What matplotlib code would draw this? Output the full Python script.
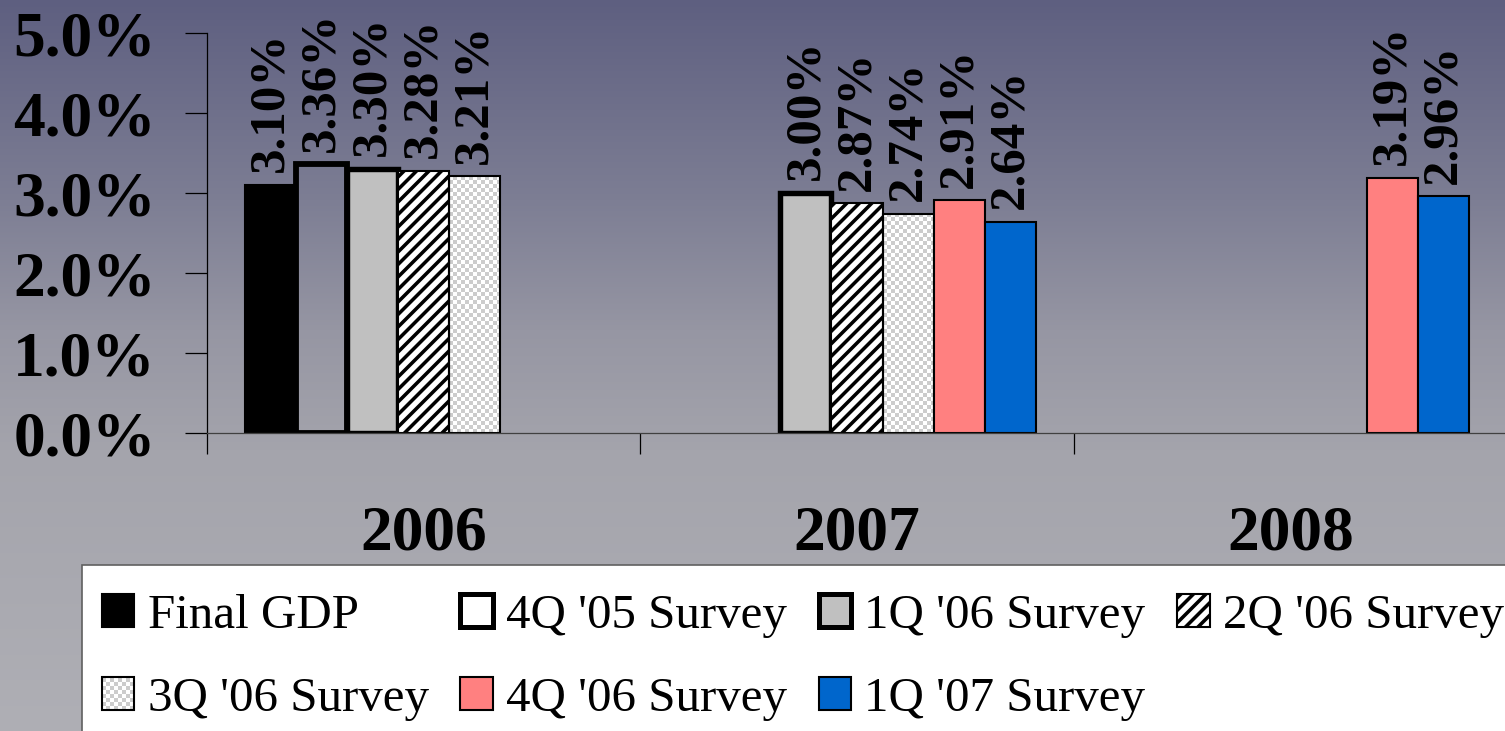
import matplotlib.pyplot as plt
import numpy as np
from matplotlib.patches import Patch, Rectangle
from matplotlib.legend_handler import HandlerBase

plt.rcParams['font.family'] = ['Liberation Serif', 'DejaVu Serif']
plt.rcParams['hatch.linewidth'] = 1.7

years = ['2006', '2007', '2008']
series = ["Final GDP", "4Q '05 Survey", "1Q '06 Survey", "2Q '06 Survey",
          "3Q '06 Survey", "4Q '06 Survey", "1Q '07 Survey"]
final_gdp = [3.10, np.nan, np.nan]
q4_05 = [3.36, np.nan, np.nan]
q1_06 = [3.30, 3.00, np.nan]
q2_06 = [3.28, 2.87, np.nan]
q3_06 = [3.21, 2.74, np.nan]
q4_06 = [np.nan, 2.91, 3.19]
q1_07 = [np.nan, 2.64, 2.96]
values = [final_gdp, q4_05, q1_06, q2_06, q3_06, q4_06, q1_07]
yticks = [0, 1, 2, 3, 4, 5]

styles = [
    dict(facecolor='black', edgecolor='black', linewidth=1.0),
    dict(facecolor='none', edgecolor='black', linewidth=2.8),
    dict(facecolor='#C0C0C0', edgecolor='black', linewidth=2.6),
    dict(facecolor='white', edgecolor='black', linewidth=1.0, hatch='////'),
    dict(facecolor='none', edgecolor='black', linewidth=1.0),
    dict(facecolor='#FF8080', edgecolor='black', linewidth=1.0),
    dict(facecolor='#0066CC', edgecolor='black', linewidth=1.0),
]
CHECK_GRAY = [0.80, 0.80, 0.80]


class CheckerHandler(HandlerBase):
    def create_artists(self, legend, orig_handle, xdescent, ydescent,
                       width, height, fontsize, trans):
        n = 8
        x0, y0 = -xdescent, -ydescent
        arts = [Rectangle((x0, y0), width, height, facecolor='white',
                          edgecolor='none', transform=trans)]
        for i in range(n):
            for j in range(n):
                if (i + j) % 2:
                    arts.append(Rectangle((x0 + i * width / n, y0 + j * height / n),
                                          width / n, height / n, facecolor=CHECK_GRAY,
                                          edgecolor='none', linewidth=0, transform=trans))
        arts.append(Rectangle((x0, y0), width, height, fill=False,
                              edgecolor='black', linewidth=1.0, transform=trans))
        return arts


fig = plt.figure(figsize=(1505 / 150, 731 / 150), dpi=150)

# background gradient
bg = fig.add_axes([0, 0, 1, 1], zorder=-10)
rows = np.arange(731)
stops = [0, 200, 330, 450, 731]
r = np.interp(rows, stops, [94, 125, 150, 164, 175])
g = np.interp(rows, stops, [95, 126, 150, 164, 175])
b = np.interp(rows, stops, [128, 148, 163, 172, 181])
grad = np.stack([r, g, b], axis=-1)[:, None, :] / 255
bg.imshow(grad, aspect='auto', extent=[0, 1, 0, 1])
bg.axis('off')

ax = fig.add_axes([207 / 1505, 1 - 433 / 731, 1300 / 1505, 400 / 731])
ax.set_facecolor('none')
ax.set_xlim(-0.5, 2.5)
ax.set_ylim(0, 5)

x = np.arange(len(years))
w = 0.1177
(x0p, y0p), (x1p, y1p) = ax.transData.transform([[0, 0], [1, 1]])
px_x, px_y = x1p - x0p, y1p - y0p

for i, (vals, st) in enumerate(zip(values, styles)):
    vals = np.array(vals)
    m = ~np.isnan(vals)
    bars = ax.bar(x[m] + (i - 3) * w, vals[m], width=w, zorder=2, **st)
    if i == 4:
        # checkered fill
        for bar in bars:
            bx, bw, bh = bar.get_x(), bar.get_width(), bar.get_height()
            nx = max(1, int(round(bw * px_x / 4)))
            ny = max(1, int(round(bh * px_y / 4)))
            chk = np.add.outer(np.arange(ny), np.arange(nx)) % 2
            img = np.where(chk[..., None] == 1, CHECK_GRAY, [1.0, 1.0, 1.0])
            ax.imshow(img, extent=[bx, bx + bw, 0, bh], interpolation='nearest',
                      aspect='auto', zorder=1.5)
    for bar, v in zip(bars, vals[m]):
        ax.annotate(f'{v:.2f}%', (bar.get_x() + bar.get_width() / 2, v),
                    xytext=(0, 6), textcoords='offset points', rotation=90,
                    ha='center', va='bottom', fontsize=24.5, fontweight='bold')

ax.set_xlim(-0.5, 2.5)
ax.set_ylim(0, 5)
ax.set_yticks(yticks, labels=[f'{t:.1f}%' for t in yticks], fontsize=30.5, fontweight='bold')
ax.tick_params(axis='y', direction='out', length=10.5, width=0.6, pad=14)
ax.set_xticks(x, labels=years, fontsize=30.5, fontweight='bold')
ax.set_xticks([-0.5, 0.5, 1.5, 2.5], minor=True)
ax.tick_params(axis='x', which='major', length=0, pad=35)
ax.tick_params(axis='x', which='minor', length=10, width=0.6, direction='out')
ax.spines[['top', 'right']].set_visible(False)
ax.spines['bottom'].set_color('#404040')
ax.spines['bottom'].set_linewidth(0.6)
ax.spines['left'].set_linewidth(0.6)

# legend box (extends past the right and bottom edges)
fig.add_artist(Rectangle((82 / 1505, -0.05), 1.0, 0.05 + (731 - 565) / 731,
                         transform=fig.transFigure, facecolor='white',
                         edgecolor='#606060', linewidth=0.8, zorder=4))
chk_handle = Patch(facecolor='white', edgecolor='black')
handles = [
    Patch(facecolor='black', edgecolor='black', linewidth=1.0),
    Patch(facecolor='white', edgecolor='black', linewidth=2.4, joinstyle='round'),
    Patch(facecolor='#C0C0C0', edgecolor='black', linewidth=2.4, joinstyle='round'),
    Patch(facecolor='white', edgecolor='black', linewidth=1.0, hatch='////'),
    chk_handle,
    Patch(facecolor='#FF8080', edgecolor='black', linewidth=1.0),
    Patch(facecolor='#0066CC', edgecolor='black', linewidth=1.0),
]
order = [0, 4, 1, 5, 2, 6, 3]
leg = fig.legend([handles[i] for i in order], [series[i] for i in order], ncol=4,
                 loc='upper left', bbox_to_anchor=(102 / 1505, 1 - 594 / 731),
                 borderaxespad=0, borderpad=0, fontsize=23.5, frameon=False,
                 handlelength=0.66, handleheight=0.66, handletextpad=0.27,
                 columnspacing=0.65, labelspacing=0.8,
                 handler_map={chk_handle: CheckerHandler()})
leg.set_zorder(5)

fig.savefig('out.png', dpi=150)
